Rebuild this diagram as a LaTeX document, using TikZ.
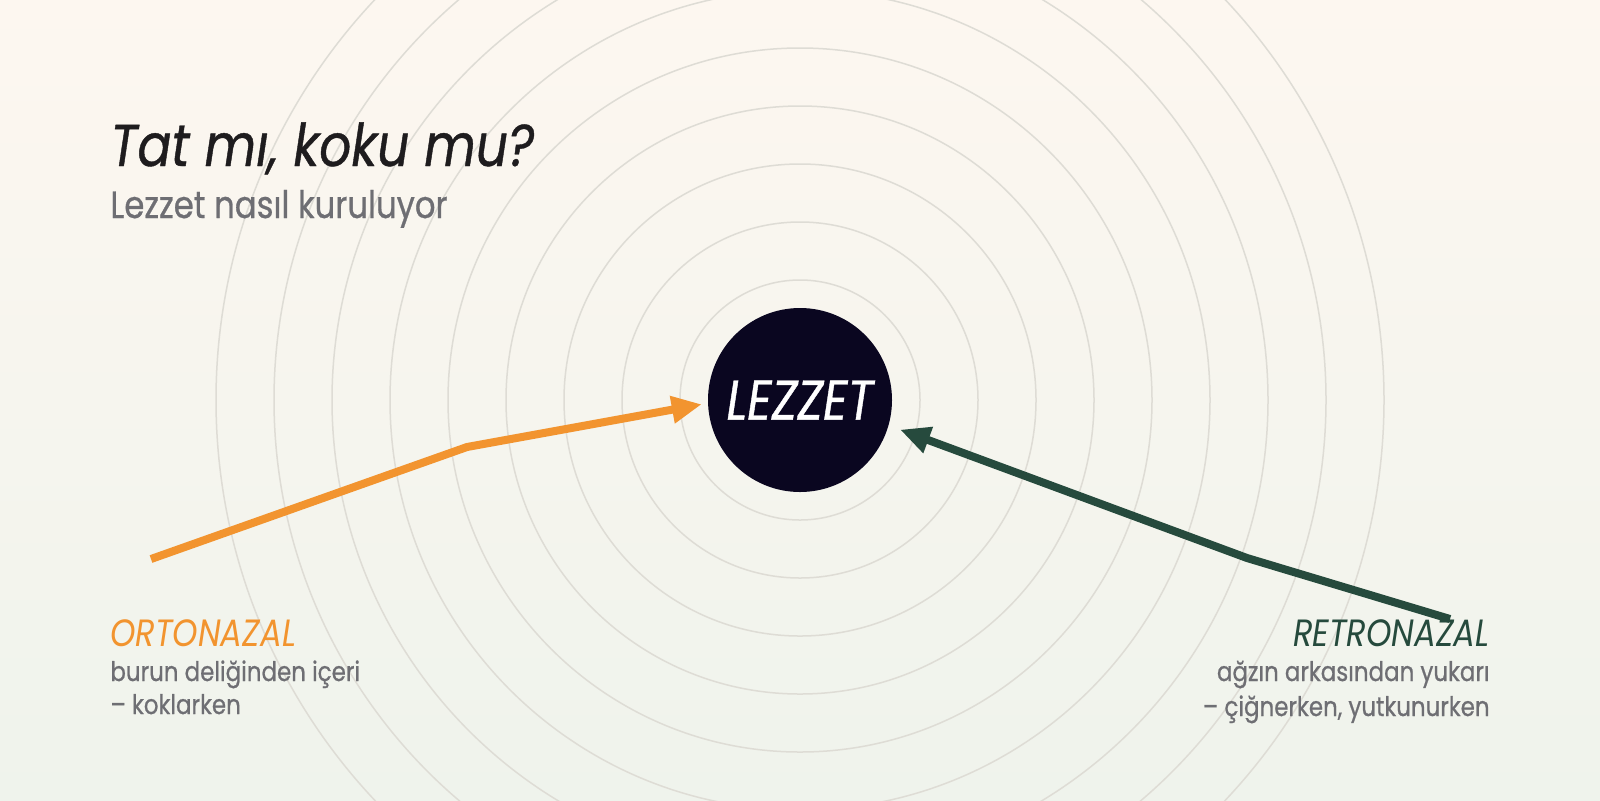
\documentclass[tikz,border=0pt]{standalone}
\usepackage{fontspec}
\setmainfont{Poppins}[FakeStretch=0.85]
\newfontfamily\medfont{Poppins}[FakeStretch=0.85,FakeBold=0.7]
\usetikzlibrary{arrows.meta,positioning}
\definecolor{cream}{HTML}{FDF7F0}
\definecolor{sage}{HTML}{EFF3EC}
\definecolor{ringgray}{HTML}{DEDCD5}
\definecolor{ink}{HTML}{0A0620}
\definecolor{ortocol}{HTML}{F2942F}
\definecolor{retrocol}{HTML}{264A3D}
\definecolor{muted}{HTML}{6E6E73}
\definecolor{titleink}{HTML}{1E1C1E}

\begin{document}
\begin{tikzpicture}[x=0.5pt,y=-0.5pt,
    ring/.style={ringgray,line width=0.75pt},
    flow/.style={line width=4pt,line join=round,-{Triangle[length=15pt,width=13pt]}},
    sense/.style={inner sep=0,font=\itshape\fontsize{19}{22}\selectfont},
    note/.style={inner sep=0,muted,font=\medfont\fontsize{13.5}{16}\selectfont}
    ]
    \useasboundingbox (0,0) rectangle (1600,800);
    % background
    \shade[top color=cream,bottom color=sage] (0,0) rectangle (1600,800);
    \coordinate (mid) at (800,400);
    \begin{scope}
        \clip (0,0) rectangle (1600,800);
        \foreach \r in {120,178,...,590}
            \draw[ring] (mid) circle (\r);
    \end{scope}

    % title
    \node[inner sep=0,anchor=base west,titleink,font=\medfont\itshape\fontsize{29.5}{34}\selectfont] (title) at (110,166) {Tat mı, koku mu?};
    \node[inner sep=0,anchor=base west,muted,font=\medfont\fontsize{19}{22}\selectfont] (subtitle) at (110,218) {Lezzet nasıl kuruluyor};

    % centre
    \node[circle,fill=ink,minimum size=92pt,inner sep=0,text=white,font=\medfont\itshape\fontsize{28}{32}\selectfont] (lezzet) at (mid) {LEZZET};

    % orthonasal route
    \coordinate (ortostart) at (151,559);
    \coordinate (ortobend) at (467,447);
    \draw[flow,ortocol,shorten >=3pt] (ortostart) -- (ortobend) -- (lezzet.182);
    \node[sense,ortocol,anchor=base west] (orto) at (110,646) {ORTONAZAL};
    \node[note,anchor=base west] (ortonote) at (110,681) {burun deliğinden içeri};
    \node[note,anchor=base west] (ortowhen) at (110,714) {– koklarken};

    % retronasal route
    \coordinate (retrostart) at (1450,619);
    \coordinate (retrobend) at (1247,558);
    \draw[flow,retrocol,shorten >=6pt] (retrostart) -- (retrobend) -- (lezzet.-16);
    \node[sense,retrocol,anchor=base east] (retro) at (1490,646) {RETRONAZAL};
    \node[note,anchor=base east] (retronote) at (1490,681) {ağzın arkasından yukarı};
    \node[note,anchor=base east] (retrowhen) at (1490,716) {– çiğnerken, yutkunurken};
\end{tikzpicture}
\end{document}
